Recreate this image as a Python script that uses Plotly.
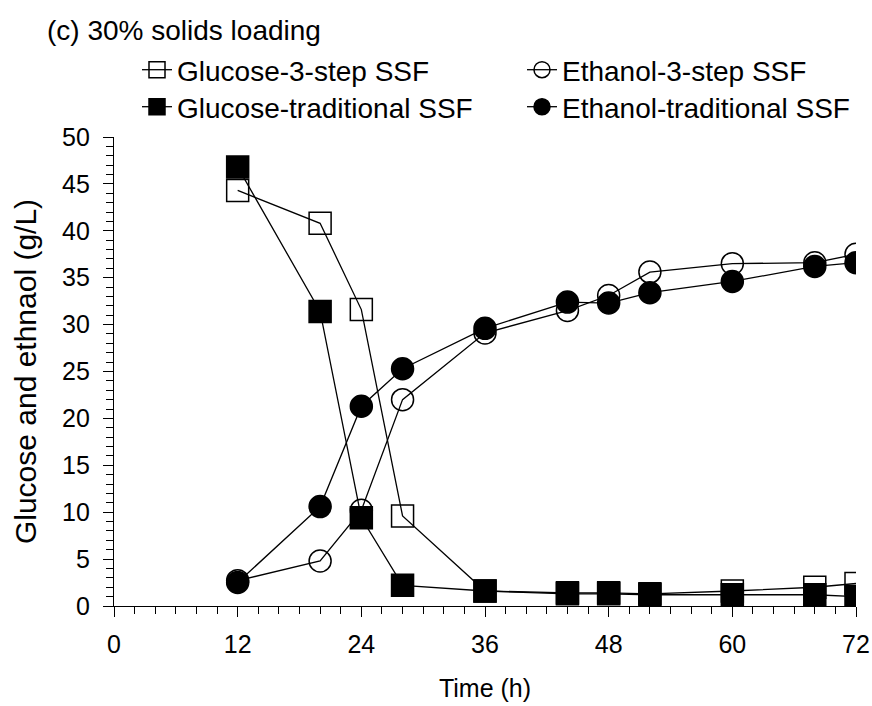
import plotly.graph_objects as go

# Sampling times (h)
time_h = [12, 20, 24, 28, 36, 44, 48, 52, 60, 68, 72]

# Concentrations (g/L)
glucose_3step = [44.3, 40.8, 31.6, 9.6, 1.6, 1.4, 1.4, 1.3, 1.6, 2.0, 2.4]
ethanol_3step = [2.7, 4.8, 10.2, 22.0, 29.1, 31.5, 33.1, 35.6, 36.5, 36.6, 37.5]
glucose_trad = [46.8, 31.4, 9.4, 2.2, 1.6, 1.3, 1.3, 1.2, 1.2, 1.2, 1.0]
ethanol_trad = [2.5, 10.6, 21.3, 25.3, 29.6, 32.4, 32.3, 33.4, 34.6, 36.2, 36.6]

series_names = ["Glucose-3-step SSF", "Ethanol-3-step SSF",
                "Glucose-traditional SSF", "Ethanol-traditional SSF"]

x_ticks = [0, 12, 24, 36, 48, 60, 72]
y_ticks = [0, 5, 10, 15, 20, 25, 30, 35, 40, 45, 50]

FONT = "Liberation Sans, Arial, sans-serif"
MS = 22
W, H = 872, 706

fig = go.Figure()

# one legend per entry so the 2x2 key sits on a fixed grid
specs = [
    (glucose_3step, series_names[0], "square-open", "legend", 137, 70),
    (ethanol_3step, series_names[1], "circle-open", "legend2", 522, 70),
    (glucose_trad, series_names[2], "square", "legend3", 137, 107),
    (ethanol_trad, series_names[3], "circle", "legend4", 522, 107),
]
legends = {}
for values, name, symbol, leg, lx, ly in specs:
    fig.add_trace(go.Scatter(
        x=time_h, y=values, name=name, mode="lines+markers",
        line=dict(color="black", width=1.3),
        marker=dict(symbol=symbol, size=MS, color="black",
                    line=dict(color="black", width=1.5)),
        legend=leg,
    ))
    legends[leg] = dict(orientation="h", xref="container", yref="container",
                        x=lx / W, xanchor="left", y=1 - ly / H, yanchor="middle",
                        bgcolor="rgba(0,0,0,0)",
                        font=dict(family=FONT, size=28, color="black"),
                        itemwidth=30)

axis_common = dict(
    showline=True, linecolor="black", linewidth=1.3,
    ticks="outside", tickcolor="black", tickwidth=1.3, ticklen=10,
    showgrid=False, zeroline=False, mirror=False,
    tickfont=dict(family=FONT, size=25, color="black"),
)

fig.update_layout(
    width=W, height=H,
    showlegend=True,
    margin=dict(l=114, r=16, t=137, b=100, autoexpand=False),
    paper_bgcolor="white", plot_bgcolor="white",
    font=dict(family=FONT, size=22, color="black"),
    title=dict(text="(c) 30% solids loading", xref="container", yref="container",
               x=47 / W, xanchor="left", y=1 - 30 / H, yanchor="middle",
               font=dict(family=FONT, size=28, color="black")),
    xaxis=dict(range=[0, 72], tickvals=x_ticks, ticklabelstandoff=6,
               minor=dict(dtick=2, tick0=0, ticks="outside", ticklen=7,
                          tickcolor="black", tickwidth=1.3),
               title=dict(text="Time (h)", standoff=22,
                          font=dict(family=FONT, size=25)),
               **axis_common),
    yaxis=dict(range=[0, 50], tickvals=y_ticks, ticklabelstandoff=8,
               minor=dict(dtick=1, tick0=0, ticks="outside", ticklen=7,
                          tickcolor="black", tickwidth=1.3),
               title=dict(text="Glucose and ethnaol (g/L)", standoff=16,
                          font=dict(family=FONT, size=30)),
               **axis_common),
    **legends,
)

fig.write_html("out.html")
